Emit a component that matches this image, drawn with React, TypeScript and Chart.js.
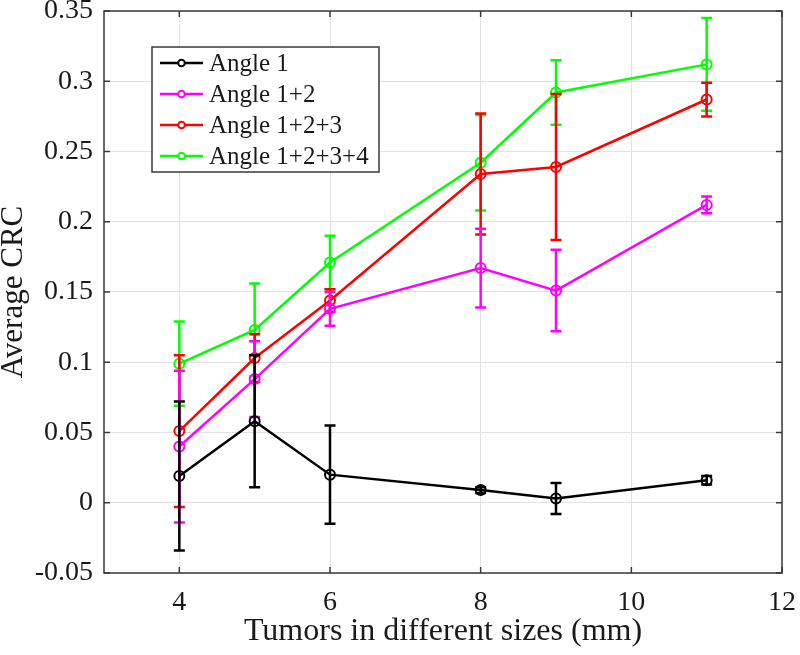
import React, { useEffect, useRef } from "react";
import { Chart, registerables } from "chart.js";

Chart.register(...registerables);

// ---- data ----
const xValues = [4, 5, 6, 8, 9, 11];
const seriesNames = ["Angle 1", "Angle 1+2", "Angle 1+2+3", "Angle 1+2+3+4"];
const angle1 = [0.019, 0.058, 0.020, 0.009, 0.003, 0.016];
const angle1Err = [0.053, 0.047, 0.035, 0.002, 0.011, 0.003];
const angle12 = [0.040, 0.088, 0.138, 0.167, 0.151, 0.212];
const angle12Err = [0.054, 0.027, 0.012, 0.028, 0.029, 0.006];
const angle123 = [0.051, 0.103, 0.144, 0.234, 0.239, 0.287];
const angle123Err = [0.054, 0.017, 0.008, 0.043, 0.052, 0.012];
const angle1234 = [0.099, 0.123, 0.171, 0.242, 0.292, 0.312];
const angle1234Err = [0.030, 0.033, 0.019, 0.034, 0.023, 0.033];
const xTicks = [4, 6, 8, 10, 12];
const yTicks = [-0.05, 0, 0.05, 0.1, 0.15, 0.2, 0.25, 0.3, 0.35];
const yTickLabels = ["-0.05", "0", "0.05", "0.1", "0.15", "0.2", "0.25", "0.3", "0.35"];
const xTitle = "Tumors in different sizes (mm)";
const yTitle = "Average CRC";
const colors = ["#000000", "#ff00ff", "#ff0000", "#00ff00"];

const seriesValues = [angle1, angle12, angle123, angle1234];
const seriesErrors = [angle1Err, angle12Err, angle123Err, angle1234Err];

const FONT = "'Liberation Serif', 'Times New Roman', serif";
const TEXT = "#1a1a1a";

const errorBarPlugin = {
  id: "errorBars",
  afterDatasetDraw(chart: any, args: any) {
    const i = args.index;
    const errs = seriesErrors[i];
    const vals = seriesValues[i];
    if (!errs) return;
    const ctx = chart.ctx;
    const y = chart.scales.y;
    const meta = args.meta;
    ctx.save();
    ctx.strokeStyle = colors[i];
    ctx.lineWidth = 2.5;
    ctx.lineCap = "butt";
    meta.data.forEach((pt: any, j: number) => {
      const px = pt.x;
      const top = y.getPixelForValue(vals[j] + errs[j]);
      const bot = y.getPixelForValue(vals[j] - errs[j]);
      const cw = 5.5;
      ctx.beginPath();
      ctx.moveTo(px, top);
      ctx.lineTo(px, bot);
      ctx.moveTo(px - cw, top);
      ctx.lineTo(px + cw, top);
      ctx.moveTo(px - cw, bot);
      ctx.lineTo(px + cw, bot);
      ctx.stroke();
    });
    ctx.restore();
  },
};

const framePlugin = {
  id: "frame",
  afterDraw(chart: any) {
    const ctx = chart.ctx;
    const { left, right, top, bottom } = chart.chartArea;
    const xs = chart.scales.x;
    const ys = chart.scales.y;
    ctx.save();
    ctx.strokeStyle = "#3a3a3a";
    ctx.lineWidth = 1.5;
    ctx.strokeRect(left, top, right - left, bottom - top);
    const tl = 6;
    ctx.beginPath();
    xTicks.forEach((v) => {
      const px = xs.getPixelForValue(v);
      ctx.moveTo(px, bottom);
      ctx.lineTo(px, bottom - tl);
      ctx.moveTo(px, top);
      ctx.lineTo(px, top + tl);
    });
    yTicks.forEach((v) => {
      const py = ys.getPixelForValue(v);
      ctx.moveTo(left, py);
      ctx.lineTo(left + tl, py);
      ctx.moveTo(right, py);
      ctx.lineTo(right - tl, py);
    });
    ctx.stroke();

    // legend
    const bx = 152, by = 47, bw = 227, bh = 125;
    ctx.fillStyle = "#ffffff";
    ctx.fillRect(bx, by, bw, bh);
    ctx.strokeStyle = "#3a3a3a";
    ctx.lineWidth = 1.5;
    ctx.strokeRect(bx, by, bw, bh);
    const rowH = 31;
    chart.data.datasets.forEach((ds: any, i: number) => {
      const cy = by + 16 + i * rowH;
      ctx.strokeStyle = ds.borderColor;
      ctx.lineWidth = 2.5;
      ctx.beginPath();
      ctx.moveTo(160, cy);
      ctx.lineTo(203, cy);
      ctx.stroke();
      ctx.lineWidth = 2;
      ctx.beginPath();
      ctx.arc(181.5, cy, 3.3, 0, Math.PI * 2);
      ctx.fillStyle = "#ffffff";
      ctx.fill();
      ctx.stroke();
      ctx.fillStyle = TEXT;
      ctx.font = `25px ${FONT}`;
      ctx.textBaseline = "middle";
      ctx.textAlign = "left";
      ctx.fillText(ds.label, 209, cy + 1);
    });
    ctx.restore();
  },
};

export default function App() {
  const ref = useRef<HTMLCanvasElement | null>(null);

  useEffect(() => {
    document.body.style.margin = "0";
    const canvas = ref.current;
    if (!canvas) return;
    const chart = new Chart(canvas, {
      type: "line",
      data: {
        datasets: seriesValues.map((vals, i) => ({
          label: seriesNames[i],
          data: xValues.map((x, j) => ({ x, y: vals[j] })),
          borderColor: colors[i],
          backgroundColor: "rgba(0,0,0,0)",
          borderWidth: 2.5,
          pointRadius: 5,
          pointBorderWidth: 2,
          pointBackgroundColor: "rgba(0,0,0,0)",
          pointBorderColor: colors[i],
          tension: 0,
          fill: false,
        })),
      },
      options: {
        animation: false,
        responsive: true,
        maintainAspectRatio: false,
        layout: { padding: { top: 11, right: 18, left: 0, bottom: 0 } },
        plugins: {
          legend: { display: false },
          tooltip: { enabled: false },
        },
        scales: {
          x: {
            type: "linear",
            min: 3,
            max: 12,
            afterBuildTicks: (s: any) => {
              s.ticks = xTicks.map((v) => ({ value: v }));
            },
            afterFit: (s: any) => {
              s.height = 82;
              s.paddingLeft = 0;
              s.paddingRight = 0;
            },
            grid: { color: "#e2e2e2", lineWidth: 1, drawTicks: false },
            border: { display: false },
            ticks: {
              padding: 13,
              color: TEXT,
              font: { family: FONT, size: 28 },
              callback: (v: any) => String(v),
            },
            title: {
              display: true,
              text: xTitle,
              color: TEXT,
              font: { family: FONT, size: 32 },
              padding: { top: 0, bottom: 4 },
            },
          },
          y: {
            type: "linear",
            min: -0.05,
            max: 0.35,
            afterBuildTicks: (s: any) => {
              s.ticks = yTicks.map((v) => ({ value: v }));
            },
            afterFit: (s: any) => {
              s.width = 104;
              s.paddingTop = 0;
              s.paddingBottom = 0;
            },
            grid: { color: "#e2e2e2", lineWidth: 1, drawTicks: false },
            border: { display: false },
            ticks: {
              padding: 11,
              color: TEXT,
              font: { family: FONT, size: 28 },
              callback: (v: any) => {
                let best = 0;
                yTicks.forEach((t, k) => {
                  if (Math.abs(t - v) < Math.abs(yTicks[best] - v)) best = k;
                });
                return yTickLabels[best];
              },
            },
            title: {
              display: true,
              text: yTitle,
              color: TEXT,
              font: { family: FONT, size: 31, lineHeight: 0.9 },
              padding: { top: 0, bottom: 0 },
            },
          },
        },
      },
      plugins: [errorBarPlugin, framePlugin],
    } as any);
    return () => chart.destroy();
  }, []);

  return (
    <div style={{ position: "fixed", left: 0, top: 0, width: 800, height: 655 }}>
      <canvas ref={ref} />
    </div>
  );
}
